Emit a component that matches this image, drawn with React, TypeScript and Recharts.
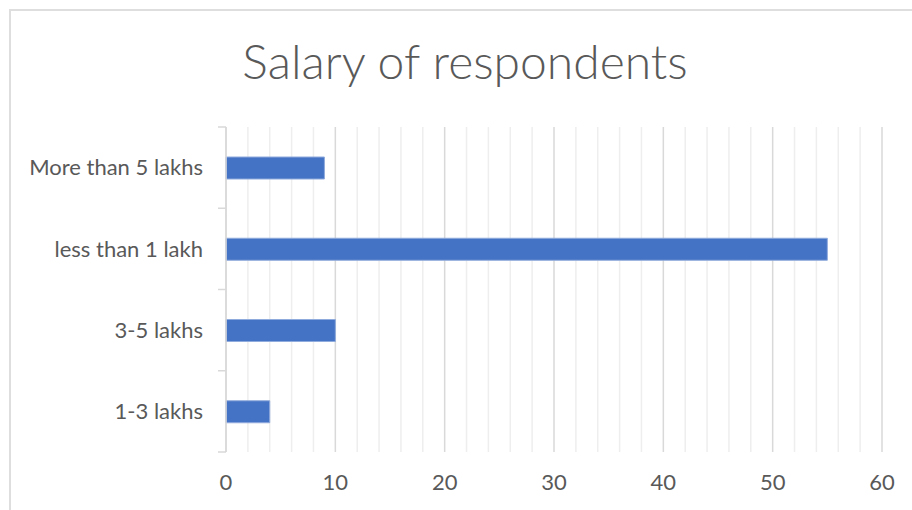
import React from "react";
import { BarChart, Bar, XAxis, YAxis, CartesianGrid } from "recharts";

const title = "Salary of respondents";
const categories = ["More than 5 lakhs", "less than 1 lakh", "3-5 lakhs", "1-3 lakhs"];
const values = [9, 55, 10, 4];
const xDomain = [0, 60];
const majorTicks = [0, 10, 20, 30, 40, 50, 60];
const minorTicks = [2, 4, 6, 8, 12, 14, 16, 18, 22, 24, 26, 28, 32, 34, 36, 38, 42, 44, 46, 48, 52, 54, 56, 58];

const data = categories.map((c, i) => ({ name: c, value: values[i] }));

const FONT = "Lato, 'Open Sans', sans-serif";
const TEXT = "#595959";
const AXIS = "#d9d9d9";
const LABEL_GAP = 23;
const TICK_LEN = 8;

function CategoryTick(props: any) {
  const { x, y, payload, index, visibleTicksCount } = props;
  const half = payload && typeof payload.offset === "number" ? payload.offset : 0;
  const ax = x + LABEL_GAP;
  const isLast = index === visibleTicksCount - 1;
  return (
    <g>
      <line x1={ax - TICK_LEN} x2={ax} y1={y - half} y2={y - half} stroke={AXIS} strokeWidth={1.5} />
      {isLast && <line x1={ax - TICK_LEN} x2={ax} y1={y + half} y2={y + half} stroke={AXIS} strokeWidth={1.5} />}
      <text x={x} y={y} dy="0.355em" textAnchor="end" fill={TEXT} fontSize={22} fontFamily={FONT}>
        {payload.value}
      </text>
    </g>
  );
}

const minorGenerator = (args: any) => {
  const scale = args && args.xAxis ? args.xAxis.scale : undefined;
  const off = args ? args.offset : undefined;
  const toX = (v: number): number => {
    if (typeof scale === "function") return scale(v);
    if (scale && typeof scale.map === "function") return scale.map(v);
    if (off) return off.left + ((v - xDomain[0]) / (xDomain[1] - xDomain[0])) * off.width;
    return 0;
  };
  return minorTicks.map((v) => toX(v));
};

export default function App() {
  return (
    <div style={{ position: "absolute", left: 0, top: 0, width: 912, height: 510, background: "#fff", overflow: "hidden" }}>
      <div
        style={{
          position: "absolute",
          left: 9,
          top: 9,
          width: 960,
          height: 560,
          borderTop: "2px solid #dedede",
          borderLeft: "2px solid #dedede",
          boxSizing: "border-box",
        }}
      />
      <svg width={912} height={110} style={{ position: "absolute", left: 0, top: 0 }}>
        <text x={465} y={79} textAnchor="middle" fontFamily={FONT} fontWeight={300} fontSize={48} fill={TEXT}>
          {title}
        </text>
      </svg>
      <div style={{ position: "absolute", left: 0, top: 0 }}>
        <BarChart
          width={912}
          height={510}
          data={data}
          layout="vertical"
          margin={{ top: 127, right: 30, bottom: 0, left: 0 }}
        >
          <XAxis
            type="number"
            domain={xDomain}
            ticks={majorTicks}
            axisLine={false}
            tickLine={false}
            height={58}
            tickMargin={16}
            tick={{ fill: TEXT, fontSize: 22, fontFamily: FONT }}
          />
          <YAxis
            type="category"
            dataKey="name"
            width={226}
            axisLine={{ stroke: AXIS, strokeWidth: 1.5 }}
            tickLine={false}
            tickSize={0}
            tickMargin={LABEL_GAP}
            tick={<CategoryTick />}
          />
          <CartesianGrid
            horizontal={false}
            stroke="#eeeeee"
            strokeWidth={1.5}
            verticalCoordinatesGenerator={minorGenerator}
          />
          <CartesianGrid horizontal={false} stroke={AXIS} strokeWidth={1.5} />
          <Bar
            dataKey="value"
            fill="#4472C4"
            stroke="#8FAADC"
            strokeWidth={1}
            barSize={22}
            isAnimationActive={false}
          />
        </BarChart>
      </div>
    </div>
  );
}
